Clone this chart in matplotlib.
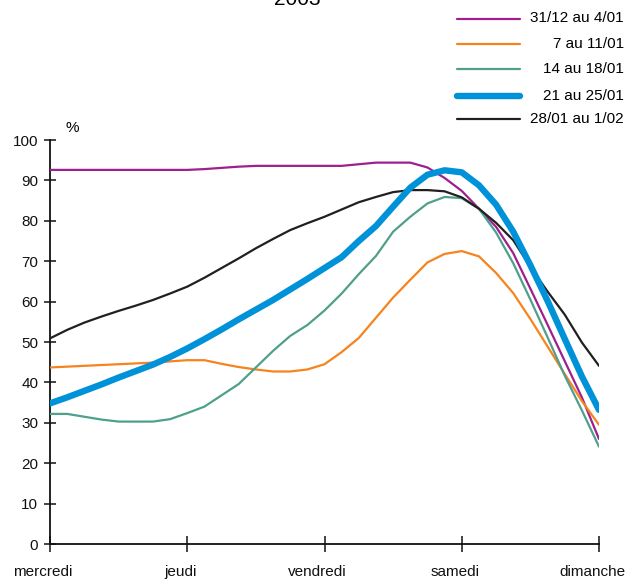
import numpy as np
import matplotlib
matplotlib.use("Agg")
import matplotlib.pyplot as plt
import matplotlib.transforms as mtrans
from matplotlib.lines import Line2D

plt.rcParams['font.family'] = ['Liberation Sans', 'DejaVu Sans']

# time axis: one point every 3 hours, wednesday 0h -> sunday 0h (in days)
hours = np.arange(0, 97, 3)
days = hours / 24.0

day_names = ['mercredi', 'jeudi', 'vendredi', 'samedi', 'dimanche']

s_3112 = [92.6, 92.6, 92.6, 92.6, 92.6, 92.6, 92.6, 92.6, 92.6, 92.8,
          93.1, 93.4, 93.6, 93.6, 93.6, 93.6, 93.6, 93.6, 94.0, 94.4,
          94.4, 94.4, 93.2, 90.6, 87.4, 83.0, 78.5, 72.0, 63.2, 54.3,
          45.3, 36.3, 26.0]
s_0701 = [43.7, 43.9, 44.1, 44.3, 44.5, 44.7, 44.9, 45.2, 45.5, 45.5,
          44.6, 43.8, 43.2, 42.7, 42.7, 43.2, 44.5, 47.5, 51.0, 56.0,
          61.0, 65.4, 69.7, 71.8, 72.5, 71.2, 67.1, 62.1, 55.7, 48.9,
          42.1, 35.4, 29.5]
s_1401 = [32.2, 32.2, 31.5, 30.8, 30.3, 30.3, 30.3, 30.9, 32.4, 34.0,
          36.8, 39.6, 43.7, 47.8, 51.5, 54.2, 57.8, 62.0, 66.8, 71.3,
          77.3, 81.0, 84.3, 85.9, 85.6, 83.0, 77.1, 69.5, 60.5, 51.2,
          41.7, 33.1, 24.1]
s_2101 = [34.8, 36.3, 37.9, 39.5, 41.2, 42.8, 44.4, 46.3, 48.4, 50.7,
          53.1, 55.6, 58.0, 60.4, 63.0, 65.6, 68.3, 71.0, 75.0, 78.7,
          83.5, 88.2, 91.4, 92.5, 92.0, 88.8, 84.0, 77.3, 69.0, 60.2,
          50.8, 41.5, 33.2]
s_2801 = [50.9, 53.0, 54.8, 56.3, 57.7, 59.0, 60.4, 62.0, 63.7, 65.9,
          68.3, 70.7, 73.2, 75.5, 77.7, 79.4, 81.0, 82.8, 84.6, 85.9,
          87.1, 87.6, 87.6, 87.3, 85.8, 83.0, 79.5, 75.2, 68.6, 62.5,
          56.8, 49.9, 44.1]

labels = ['31/12 au 4/01', '7 au 11/01', '14 au 18/01', '21 au 25/01', '28/01 au 1/02']
series = [s_3112, s_0701, s_1401, s_2101, s_2801]
colors = ['#9E1F8E', '#F7831F', '#4FA08B', '#0092D8', '#231F20']
widths = [1.6, 1.6, 1.6, 4.6, 1.6]

fig = plt.figure(figsize=(6.28, 5.81), dpi=100)
ax = fig.add_axes([50 / 628, 1 - 544 / 581, 549 / 628, 404 / 581])

order = [0, 1, 2, 4, 3]
for i in order:
    ax.plot(days, series[i], color=colors[i], lw=widths[i],
            solid_capstyle='round', solid_joinstyle='round', zorder=3 + (i == 3))

ax.set_xlim(0, 4)
ax.set_ylim(0, 100)
ax.set_yticks(np.arange(0, 101, 10))
ax.set_xticks(np.arange(5))
ax.set_xticklabels(day_names)
for s in ['top', 'right']:
    ax.spines[s].set_visible(False)
for s in ['left', 'bottom']:
    ax.spines[s].set_linewidth(1.3)
    ax.spines[s].set_color('#111111')
ax.tick_params(axis='y', direction='inout', length=9, width=1.1, pad=4,
               labelsize=11, colors='#111111')
ax.tick_params(axis='x', direction='inout', length=12, width=1.1, pad=9,
               labelsize=11, colors='#111111')
shift = mtrans.ScaledTranslation(-7 / 100, 0, fig.dpi_scale_trans)
for lab in ax.get_xticklabels():
    lab.set_transform(lab.get_transform() + shift)

fig.text(72 / 628, 1 - 128 / 581, '%', fontsize=11, ha='center', va='center')
fig.text(297 / 628, 1 - 5 / 581, '2003', fontsize=15, ha='center', va='baseline')

# legend, drawn by hand so labels are right-aligned
row_y = [18.5, 44, 69, 95.5, 119]
for i in range(5):
    yf = 1 - row_y[i] / 581
    fig.add_artist(Line2D([457 / 628, 520 / 628], [yf, yf], color=colors[i],
                          lw=widths[i], solid_capstyle='round'))
    fig.text(624 / 628, yf, labels[i], fontsize=11, ha='right', va='center')

plt.savefig('out.png', dpi=100)
